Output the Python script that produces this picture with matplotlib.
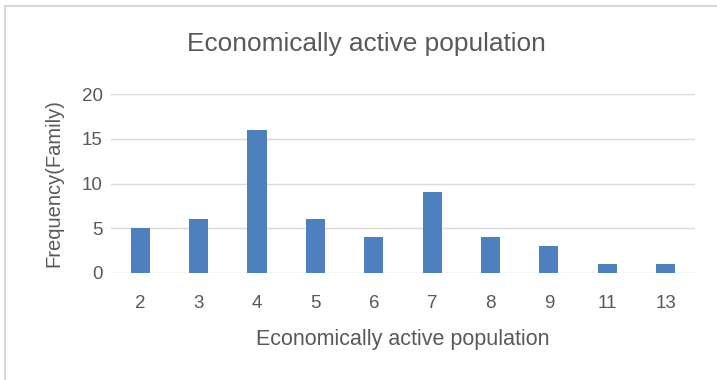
import matplotlib
matplotlib.use("Agg")
import matplotlib.pyplot as plt
from matplotlib.lines import Line2D

members = ["2", "3", "4", "5", "6", "7", "8", "9", "11", "13"]
families = [5, 6, 16, 6, 4, 9, 4, 3, 1, 1]
yticks = [0, 5, 10, 15, 20]

plt.rcParams['font.family'] = ['Liberation Sans', 'DejaVu Sans']
txt = '#595959'

fig = plt.figure(figsize=(7.17, 3.8), dpi=100)
ax = fig.add_axes([0.155, 0.2816, 0.814, 0.471])

ax.bar(members, families, width=0.33, color='#4e7fbe', zorder=3)
ax.set_xlim(-0.5, len(members) - 0.5)
ax.set_ylim(0, 20)
ax.set_yticks(yticks)
ax.grid(axis='y', color='#d9d9d9', linewidth=1, zorder=0)
for s in ax.spines.values():
    s.set_visible(False)
ax.tick_params(length=0, labelsize=13.5, colors=txt)
ax.tick_params(axis='x', pad=16)
ax.tick_params(axis='y', pad=6)

# title is centred on the whole chart, not on the plot area
fig.text(366 / 717, 1 - 44 / 380, "Economically active population",
         fontsize=18.9, color=txt, ha='center', va='center')
ax.set_xlabel("Economically active population", fontsize=15.5, color=txt, labelpad=12)
ax.set_ylabel("Frequency(Family)", fontsize=14.5, color=txt, labelpad=13)

# chart frame along the top and left
fig.add_artist(Line2D([5 / 717, 5 / 717], [0, 1 - 6 / 380], transform=fig.transFigure,
                      color='#d9d9d9', linewidth=1.5))
fig.add_artist(Line2D([5 / 717, 1], [1 - 6 / 380, 1 - 6 / 380], transform=fig.transFigure,
                      color='#d9d9d9', linewidth=1.5))

fig.savefig("out.png", dpi=100)
